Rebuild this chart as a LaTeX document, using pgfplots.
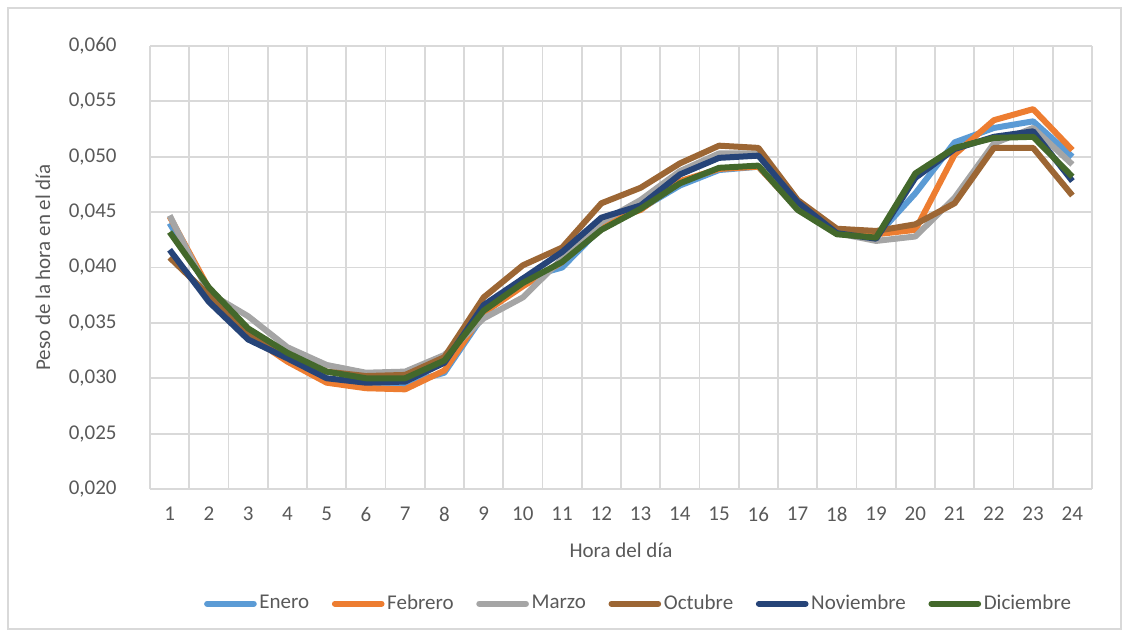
\documentclass[border=0pt]{standalone}
\usepackage{pgfplots}
\pgfplotsset{compat=1.18}
\usepackage{fontspec}
\setmainfont{Carlito}
\definecolor{txt}{HTML}{595959}
\definecolor{gridc}{HTML}{D9D9D9}
\definecolor{cEne}{HTML}{5B9BD5}
\definecolor{cFeb}{HTML}{ED7D31}
\definecolor{cMar}{HTML}{A5A5A5}
\definecolor{cOct}{HTML}{9C6634}
\definecolor{cNov}{HTML}{264478}
\definecolor{cDic}{HTML}{43682B}
\pgfplotstableread{
h Ene Feb Mar Oct Nov Dic
1 0.0440 0.0446 0.0447 0.0409 0.0416 0.0432
2 0.0380 0.0381 0.0377 0.0375 0.0369 0.0382
3 0.0339 0.0339 0.0356 0.0341 0.0335 0.0345
4 0.0317 0.0315 0.0328 0.0321 0.0318 0.0323
5 0.0299 0.0296 0.0312 0.0306 0.0300 0.0306
6 0.0294 0.0291 0.0305 0.0302 0.0296 0.0300
7 0.0295 0.0290 0.0306 0.0303 0.0297 0.0300
8 0.0305 0.0307 0.0321 0.0319 0.0314 0.0316
9 0.0357 0.0359 0.0354 0.0373 0.0366 0.0361
10 0.0390 0.0383 0.0373 0.0402 0.0390 0.0386
11 0.0400 0.0405 0.0408 0.0418 0.0414 0.0405
12 0.0436 0.0440 0.0441 0.0458 0.0445 0.0434
13 0.0453 0.0452 0.0461 0.0472 0.0456 0.0453
14 0.0474 0.0478 0.0487 0.0494 0.0484 0.0476
15 0.0488 0.0489 0.0503 0.0510 0.0499 0.0490
16 0.0491 0.0491 0.0503 0.0508 0.0501 0.0492
17 0.0453 0.0453 0.0455 0.0461 0.0459 0.0452
18 0.0431 0.0431 0.0431 0.0435 0.0431 0.0430
19 0.0428 0.0430 0.0424 0.0433 0.0426 0.0427
20 0.0467 0.0434 0.0428 0.0439 0.0481 0.0485
21 0.0513 0.0502 0.0463 0.0458 0.0507 0.0508
22 0.0526 0.0533 0.0512 0.0508 0.0518 0.0517
23 0.0532 0.0543 0.0526 0.0508 0.0523 0.0518
24 0.0500 0.0506 0.0493 0.0465 0.0478 0.0482
}\datatable
\begin{document}
\begin{tikzpicture}
\useasboundingbox (0,0) rectangle (508.05pt,-286.2pt);
\draw[color=gridc, line width=0.6pt] (3.6pt,-3.6pt) rectangle (504.45pt,-283.05pt);
\begin{axis}[
  at={(67.5pt,-20.7pt)}, anchor=north west,
  scale only axis, width=423.9pt, height=199.35pt,
  xmin=0.5, xmax=24.5, ymin=0.020, ymax=0.060,
  xtick={1,...,24},
  minor xtick={0.5,1.5,...,24.5},
  ytick={0.020,0.025,0.030,0.035,0.040,0.045,0.050,0.055,0.060},
  xmajorgrids=false, xminorgrids=true, ymajorgrids=true,
  grid style={color=gridc, line width=0.8pt},
  minor grid style={color=gridc, line width=0.8pt},
  major tick length=0pt, minor tick length=0pt,
  tick style={draw=none},
  axis line style={draw=none},
  scaled y ticks=false,
  /pgf/number format/assume math mode=true,
  y tick label style={/pgf/number format/fixed, /pgf/number format/fixed zerofill, /pgf/number format/precision=3, /pgf/number format/use comma},
  ticklabel style={font=\fontsize{9.45}{11}\selectfont, text=txt},
  xticklabel style={yshift=-4.5pt},
  yticklabel style={xshift=-11.5pt},
  xlabel={Hora del día},
  ylabel={Peso de la hora en el día},
  label style={font=\fontsize{9.45}{11}\selectfont, text=txt},
  xlabel style={at={(axis description cs:0.5,-0.1377)}, anchor=center},
  ylabel style={at={(axis description cs:-0.1136,0.5)}, anchor=center},
  legend style={draw=none, fill=none, at={(axis description cs:0.519,-0.2590)}, anchor=center,
    font=\fontsize{9.45}{11}\selectfont, text=txt,
    /tikz/every even column/.append style={column sep=9pt},
    nodes={inner xsep=1.2pt}},
  legend columns=6,
  legend image code/.code={\draw[#1, line cap=round] (0pt,0pt) -- (21pt,0pt);},
  every axis plot/.append style={line width=2.7pt, line join=round, no markers},
]
\addplot[color=cEne] table[x=h, y=Ene] {\datatable};
\addlegendentry{Enero}
\addplot[color=cFeb] table[x=h, y=Feb] {\datatable};
\addlegendentry{Febrero}
\addplot[color=cMar] table[x=h, y=Mar] {\datatable};
\addlegendentry{Marzo}
\addplot[color=cOct] table[x=h, y=Oct] {\datatable};
\addlegendentry{Octubre}
\addplot[color=cNov] table[x=h, y=Nov] {\datatable};
\addlegendentry{Noviembre}
\addplot[color=cDic] table[x=h, y=Dic] {\datatable};
\addlegendentry{Diciembre}
\end{axis}
\end{tikzpicture}
\end{document}
